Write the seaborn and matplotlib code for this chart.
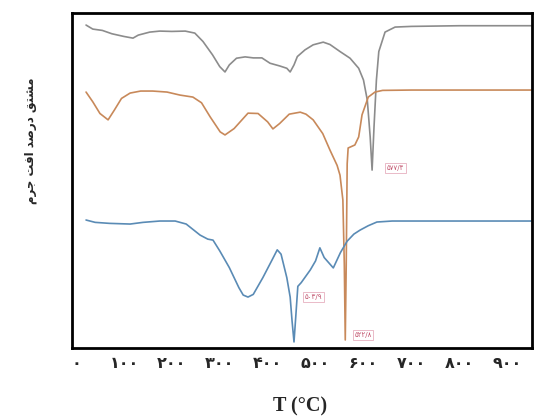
import matplotlib
matplotlib.use('Agg')
import matplotlib.pyplot as plt
import seaborn as sns
import pandas as pd

# data (T in degC, derivative in arbitrary units)
gray_T = [21, 35, 55, 75, 100, 119, 130, 154, 175, 200, 228, 248, 265, 285, 300, 311,
          320, 335, 353, 370, 388, 405, 425, 440, 447, 455, 462, 478, 495, 516, 530,
          551, 572, 590, 600, 608, 614, 618, 622, 627, 632, 645, 666, 700, 800, 950]
gray_v = [96.4, 95.2, 94.8, 93.8, 93.0, 92.5, 93.4, 94.3, 94.6, 94.5, 94.6, 94.0, 91.5,
          87.5, 84.0, 82.4, 84.5, 86.5, 86.9, 86.6, 86.6, 85.0, 84.2, 83.5, 82.4, 84.5,
          87.0, 89.0, 90.5, 91.3, 90.6, 88.5, 86.5, 83.5, 80.0, 74.0, 63.0, 53.1, 66.0,
          80.0, 88.5, 94.3, 95.8, 96.0, 96.2, 96.2]

orange_T = [21, 35, 50, 67, 80, 95, 113, 135, 160, 190, 217, 244, 262, 280, 301, 311,
            330, 359, 380, 400, 411, 425, 445, 468, 480, 495, 515, 530, 545, 551, 557,
            560, 562, 564, 566, 568, 582, 590, 597, 610, 624, 640, 700, 800, 950]
orange_v = [76.4, 73.5, 70.0, 68.1, 71.0, 74.5, 76.1, 76.7, 76.7, 76.4, 75.5, 74.9, 73.2,
            69.0, 64.5, 63.6, 65.5, 70.1, 70.0, 67.5, 65.4, 67.0, 69.8, 70.4, 69.8, 68.1,
            64.0, 59.1, 54.5, 51.6, 44.2, 25.0, 2.4, 25.0, 55.0, 59.7, 60.6, 63.0, 69.6,
            74.9, 76.4, 76.9, 77.0, 77.0, 77.0]

blue_T = [21, 40, 70, 113, 140, 175, 207, 230, 259, 275, 286, 300, 320, 340, 349, 359,
          370, 390, 410, 420, 428, 440, 447, 451, 455, 459, 463, 470, 489, 500, 509, 518,
          537, 552, 566, 580, 593, 610, 628, 660, 800, 950]
blue_v = [38.2, 37.5, 37.2, 37.0, 37.5, 37.9, 37.9, 37.0, 33.7, 32.5, 32.2, 29.0, 24.0,
          18.0, 15.8, 15.2, 16.0, 21.0, 26.5, 29.3, 28.0, 21.0, 15.2, 8.0, 1.8, 10.0,
          18.4, 19.5, 23.3, 26.0, 29.9, 27.0, 23.9, 28.5, 31.9, 34.0, 35.2, 36.5, 37.6,
          37.9, 37.9, 37.9]

# peak labels (persian digits)
peak_text = ['\u06f5\u06f7\u06f7/\u06f4', '\u06f5\u06f2\u06f2/\u06f8', '\u06f5\u06f0\u06f3/\u06f9']
peak_T = [666, 599, 495]
peak_v = [53.7, 3.9, 15.2]

tick_T = [0, 100, 200, 300, 400, 500, 600, 700, 800, 900]
fa_digits = '\u06f0\u06f1\u06f2\u06f3\u06f4\u06f5\u06f6\u06f7\u06f8\u06f9'
tick_labels = [''.join(fa_digits[int(c)] for c in str(t)) for t in tick_T]

# y label, presentation forms in visual (left-to-right) order
ylab_logical = ('\ufee3\ufeb8\ufe98\ufed6 '
                '\ufea9\ufead\ufebb\ufeaa '
                '\ufe8d\ufed3\ufe96 '
                '\ufe9f\ufeae\ufee1')
ylab = ylab_logical[::-1]

sns.set_style('white')
plt.rcParams['font.family'] = ['DejaVu Sans']

fig = plt.figure(figsize=(5.55, 4.18), dpi=100)
ax = fig.add_axes([0.130, 0.1675, 0.8288, 0.8014])

series = [(gray_T, gray_v, '#8c8c8c'),
          (orange_T, orange_v, '#c8895a'),
          (blue_T, blue_v, '#5a8bb5')]
for T, v, col in series:
    df = pd.DataFrame({'T': T, 'v': v})
    sns.lineplot(data=df, x='T', y='v', ax=ax, color=col, linewidth=1.2)

for txt, x, y in zip(peak_text, peak_T, peak_v):
    ax.text(x, y, txt, fontsize=5, color='#c0506a', ha='center', va='center',
            bbox=dict(boxstyle='square,pad=0.25', fc='white', ec='#e6b0bf', lw=0.6))

ax.set_xlim(-8, 952)
ax.set_ylim(0, 100)
ax.set_xticks(tick_T)
ax.set_xticklabels(tick_labels, fontsize=11.5, fontweight='bold')
ax.set_yticks([])
ax.tick_params(axis='x', length=0, pad=6)
for s in ax.spines.values():
    s.set_color('black')
    s.set_linewidth(2)

ax.set_xlabel('T (\u00b0C)', fontsize=14.5, fontweight='bold', family='Liberation Serif')
ax.xaxis.set_label_coords(0.496, -0.145)
ax.set_ylabel(ylab, fontsize=8.5, fontweight='bold')
ax.yaxis.set_label_coords(-0.09, 0.62)
ax.yaxis.label.set_va('center')

fig.savefig('out.png', dpi=100)
